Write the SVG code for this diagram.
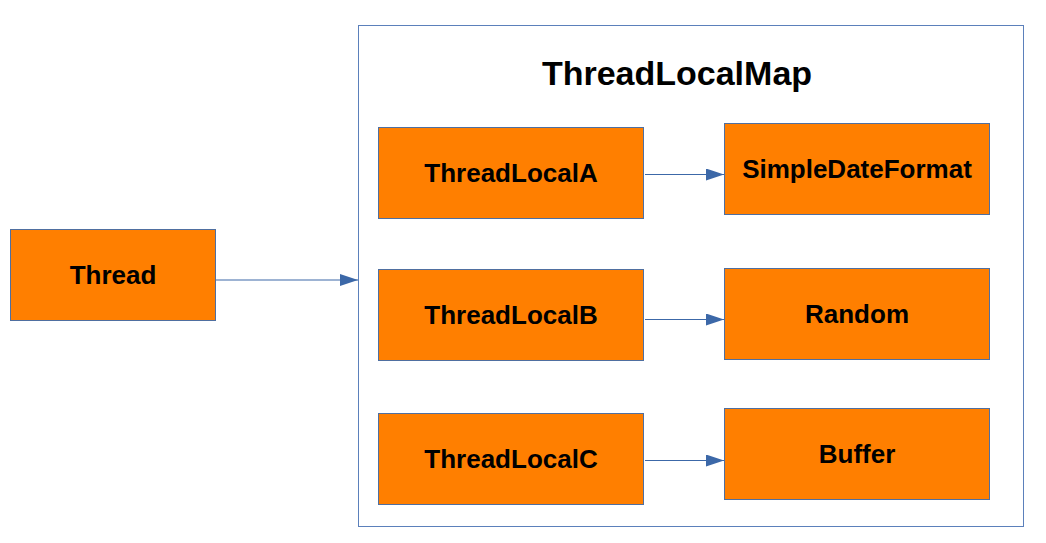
<svg xmlns="http://www.w3.org/2000/svg" width="1046" height="543" viewBox="0 0 1046 543">
<defs>
<style>
.box{fill:#ff7f00;stroke:#4f6fa0;stroke-width:1}
.lbl{font-family:"Liberation Sans",Arial,sans-serif;font-weight:bold;font-size:26px;fill:#000;text-anchor:middle}
.edge{stroke:#3c68a8;stroke-width:1.2;fill:none}
</style>
<marker id="arrL" viewBox="0 0 18 12" refX="18" refY="6" markerWidth="18" markerHeight="12" markerUnits="userSpaceOnUse" orient="auto">
<path d="M0,0 L18,6 L0,12 z" fill="#3c68a8"/>
</marker>
</defs>
<rect width="1046" height="543" fill="#fff"/>
<g id="map">
<rect x="358.5" y="25.5" width="665" height="501" fill="#fff" stroke="#5b80bb" stroke-width="1"/>
<text x="677" y="85" class="lbl" style="font-size:34px">ThreadLocalMap</text>
</g>
<g id="thread"><rect class="box" x="10.5" y="229.5" width="205" height="91"/><text class="lbl" x="113" y="284">Thread</text></g>
<g id="tla"><rect class="box" x="378.5" y="127.5" width="265" height="91"/><text class="lbl" x="511" y="182">ThreadLocalA</text></g>
<g id="tlb"><rect class="box" x="378.5" y="269.5" width="265" height="91"/><text class="lbl" x="511" y="324">ThreadLocalB</text></g>
<g id="tlc"><rect class="box" x="378.5" y="413.5" width="265" height="91"/><text class="lbl" x="511" y="468">ThreadLocalC</text></g>
<g id="sdf"><rect class="box" x="724.5" y="123.5" width="265" height="91"/><text class="lbl" x="857" y="178">SimpleDateFormat</text></g>
<g id="random"><rect class="box" x="724.5" y="268.5" width="265" height="91"/><text class="lbl" x="857" y="323">Random</text></g>
<g id="buffer"><rect class="box" x="724.5" y="408.5" width="265" height="91"/><text class="lbl" x="857" y="463">Buffer</text></g>
<g id="connectors">
<path class="edge" d="M216,280 L358,280" marker-end="url(#arrL)"/>
<path class="edge" d="M645,174.5 L724,174.5" marker-end="url(#arrL)"/>
<path class="edge" d="M645,319.5 L724,319.5" marker-end="url(#arrL)"/>
<path class="edge" d="M645,460.5 L724,460.5" marker-end="url(#arrL)"/>
</g>
</svg>
